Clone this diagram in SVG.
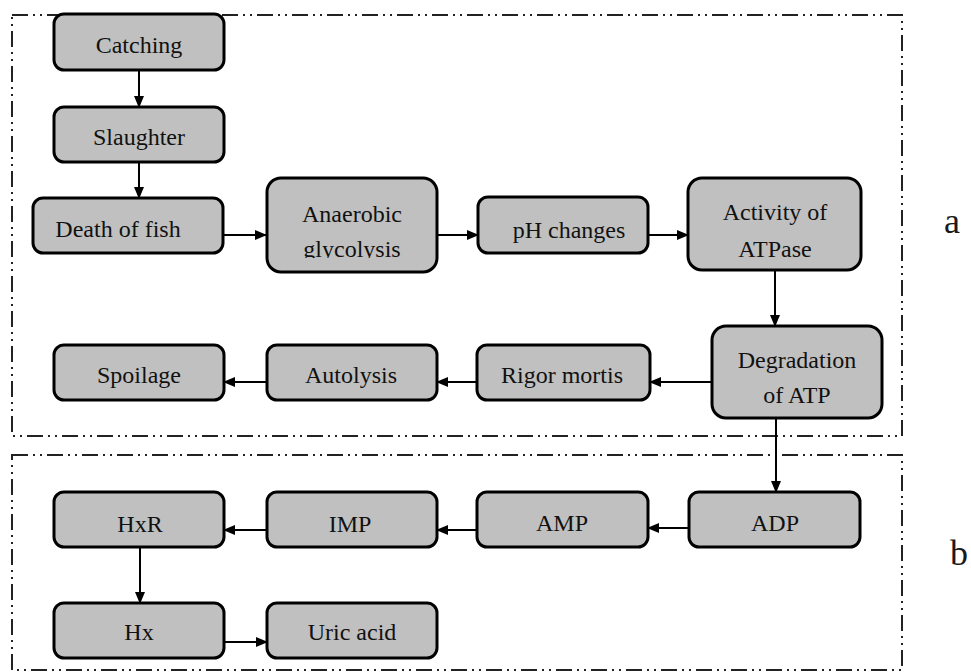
<svg xmlns="http://www.w3.org/2000/svg" width="971" height="672" viewBox="0 0 971 672">
<style>
.frame{fill:none;stroke:#222;stroke-width:2;stroke-dasharray:16 5 2 5 2 5;}
.box{fill:#c0c0c0;stroke:#000;stroke-width:3;}
.t{font-family:"Liberation Serif","Times New Roman",serif;font-size:24px;fill:#111;text-anchor:middle;}
.lbl{font-family:"Liberation Serif","Times New Roman",serif;font-size:36px;fill:#1a1a1a;}
.conn line{stroke:#000;stroke-width:2;}
</style>
<defs>
<marker id="arr" markerWidth="12" markerHeight="10" refX="11" refY="5" orient="auto" markerUnits="userSpaceOnUse">
<path d="M0,0 L12,5 L0,10 Z" fill="#000"/>
</marker>
<clipPath id="clipGly"><rect x="266" y="178" width="172" height="80"/></clipPath>
</defs>
<rect width="971" height="672" fill="#fff"/>
<rect class="frame" x="12" y="15" width="890" height="421"/>
<rect class="frame" x="12" y="455" width="890" height="215"/>
<text class="lbl" x="944" y="233">a</text>
<text class="lbl" x="950" y="565">b</text>
<g class="conn">
<line x1="139" y1="70" x2="139" y2="107" marker-end="url(#arr)"/>
<line x1="139" y1="162" x2="139" y2="198" marker-end="url(#arr)"/>
<line x1="223" y1="235" x2="266" y2="235" marker-end="url(#arr)"/>
<line x1="437" y1="235" x2="478" y2="235" marker-end="url(#arr)"/>
<line x1="648" y1="235" x2="688" y2="235" marker-end="url(#arr)"/>
<line x1="775" y1="271" x2="775" y2="326" marker-end="url(#arr)"/>
<line x1="712" y1="382" x2="650" y2="382" marker-end="url(#arr)"/>
<line x1="477" y1="382" x2="437" y2="382" marker-end="url(#arr)"/>
<line x1="267" y1="382" x2="224" y2="382" marker-end="url(#arr)"/>
<line x1="776" y1="418" x2="776" y2="492" marker-end="url(#arr)"/>
<line x1="689" y1="528" x2="648" y2="528" marker-end="url(#arr)"/>
<line x1="477" y1="530" x2="437" y2="530" marker-end="url(#arr)"/>
<line x1="267" y1="530" x2="224" y2="530" marker-end="url(#arr)"/>
<line x1="140" y1="547" x2="140" y2="603" marker-end="url(#arr)"/>
<line x1="224" y1="642" x2="267" y2="642" marker-end="url(#arr)"/>
</g>
<g id="catching"><rect class="box" x="54" y="14" width="170" height="56" rx="10"/><text class="t" x="139" y="53">Catching</text></g>
<g id="slaughter"><rect class="box" x="54" y="107" width="170" height="55" rx="10"/><text class="t" x="139" y="145">Slaughter</text></g>
<g id="death"><rect class="box" x="33" y="198" width="190" height="55" rx="10"/><text class="t" x="118" y="237">Death of fish</text></g>
<g id="anaerobic"><rect class="box" x="267" y="178" width="170" height="94" rx="14"/><text class="t" x="352" y="222">Anaerobic</text><text class="t" x="352" y="257" clip-path="url(#clipGly)">glycolysis</text></g>
<g id="ph"><rect class="box" x="478" y="197" width="170" height="56" rx="10"/><text class="t" x="569" y="238">pH changes</text></g>
<g id="atpase"><rect class="box" x="688" y="178" width="173" height="92" rx="14"/><text class="t" x="775" y="220">Activity of</text><text class="t" x="775" y="257">ATPase</text></g>
<g id="degradation"><rect class="box" x="712" y="326" width="170" height="92" rx="14"/><text class="t" x="797" y="368">Degradation</text><text class="t" x="797" y="403">of ATP</text></g>
<g id="rigor"><rect class="box" x="477" y="345" width="173" height="55" rx="10"/><text class="t" x="562" y="383">Rigor mortis</text></g>
<g id="autolysis"><rect class="box" x="267" y="345" width="170" height="55" rx="10"/><text class="t" x="351" y="383">Autolysis</text></g>
<g id="spoilage"><rect class="box" x="54" y="345" width="170" height="55" rx="10"/><text class="t" x="139" y="383">Spoilage</text></g>
<g id="adp"><rect class="box" x="689" y="492" width="171" height="55" rx="10"/><text class="t" x="775" y="531">ADP</text></g>
<g id="amp"><rect class="box" x="477" y="492" width="171" height="55" rx="10"/><text class="t" x="562" y="531">AMP</text></g>
<g id="imp"><rect class="box" x="267" y="492" width="170" height="55" rx="10"/><text class="t" x="350" y="532">IMP</text></g>
<g id="hxr"><rect class="box" x="54" y="492" width="170" height="55" rx="10"/><text class="t" x="140" y="532">HxR</text></g>
<g id="hx"><rect class="box" x="54" y="603" width="170" height="55" rx="10"/><text class="t" x="139" y="640">Hx</text></g>
<g id="uric"><rect class="box" x="267" y="603" width="170" height="55" rx="10"/><text class="t" x="352" y="640">Uric acid</text></g>
</svg>
